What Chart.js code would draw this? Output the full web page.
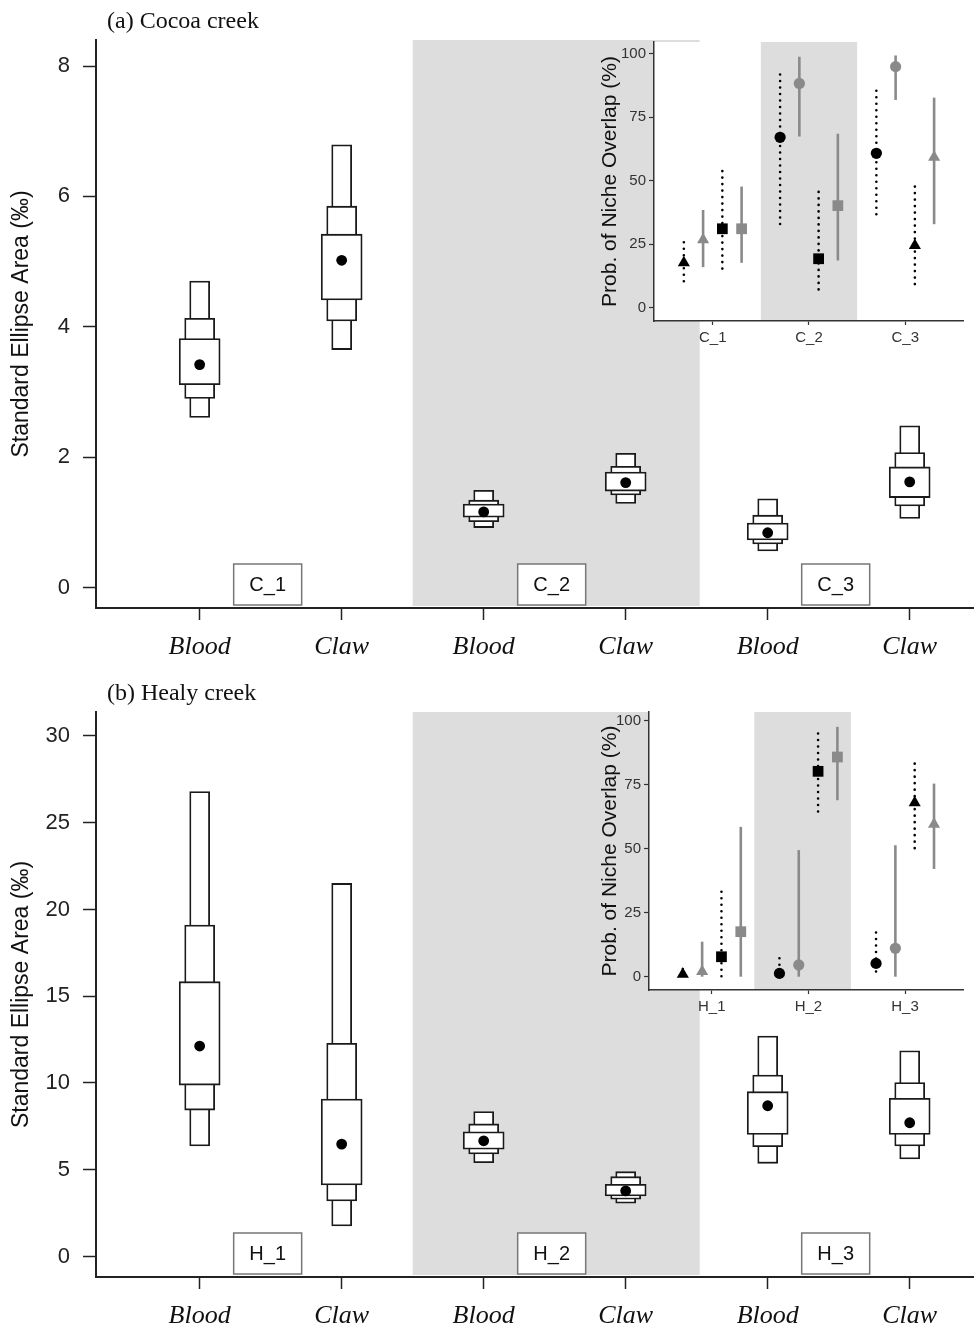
<!DOCTYPE html>
<html lang="en">
<head>
<meta charset="UTF-8">
<title>Standard ellipse areas - Cocoa and Healy creek</title>
<script src="https://cdn.jsdelivr.net/npm/chart.js"></script>
<style>
    * { margin: 0; padding: 0; box-sizing: border-box; }
    body { background: #fff; width: 979px; height: 1332px; position: relative; overflow: hidden; }
    .panel { position: absolute; left: 0; width: 979px; height: 666px; }
    .panel canvas { position: absolute; }
    .panel-title {
        position: absolute; left: 107px;
        font-family: 'Liberation Serif', serif; font-size: 24px; line-height: 24px; color: #111;
    }
</style>
</head>
<body>
<div class="panel" style="top:0">
    <canvas id="mainA" width="979" height="666" style="left:0;top:0"></canvas>
    <canvas id="insetA" width="399" height="330" style="left:580px;top:30px"></canvas>
    <div class="panel-title" style="top:8px">(a) Cocoa creek</div>
</div>
<div class="panel" style="top:666px">
    <canvas id="mainB" width="979" height="666" style="left:0;top:0"></canvas>
    <canvas id="insetB" width="399" height="330" style="left:580px;top:34px"></canvas>
    <div class="panel-title" style="top:14px">(b) Healy creek</div>
</div>

<script>
// categories on the main x axis
const tissues = ['Blood', 'Claw', 'Blood', 'Claw', 'Blood', 'Claw'];
const tissuePos = [1, 2, 3, 4, 5, 6];
const ticksA = [0, 2, 4, 6, 8];
const ticksB = [0, 5, 10, 15, 20, 25, 30];

// (a) Cocoa creek: SEA mode and credible intervals (50, 75, 95 %)
const groupsA = ['C_1', 'C_2', 'C_3'];
const modeA = [3.42, 5.02, 1.16, 1.61, 0.84, 1.62];
const ci50A = [[3.11, 3.82], [4.41, 5.42], [1.08, 1.28], [1.48, 1.77], [0.73, 0.99], [1.38, 1.85]];
const ci75A = [[2.90, 4.13], [4.09, 5.85], [1.01, 1.34], [1.42, 1.86], [0.67, 1.11], [1.25, 2.07]];
const ci95A = [[2.61, 4.70], [3.65, 6.79], [0.92, 1.49], [1.29, 2.06], [0.56, 1.36], [1.06, 2.48]];

// (b) Healy creek
const groupsB = ['H_1', 'H_2', 'H_3'];
const modeB = [12.13, 6.48, 6.67, 3.78, 8.69, 7.71];
const ci50B = [[9.88, 15.84], [4.12, 9.08], [6.18, 7.19], [3.49, 4.16], [7.04, 9.50], [7.04, 9.12]];
const ci75B = [[8.44, 19.10], [3.20, 12.29], [5.91, 7.64], [3.30, 4.60], [6.33, 10.46], [6.37, 10.02]];
const ci95B = [[6.37, 26.80], [1.76, 21.50], [5.41, 8.35], [3.07, 4.89], [5.37, 12.71], [5.62, 11.86]];

// insets: probability of niche overlap (%), estimate with low/high bounds
const overlapTicks = [0, 25, 50, 75, 100];
const bloodOneA = [17.7, 67.1, 60.8], bloodOneLoA = [9.1, 32.9, 36.1], bloodOneHiA = [25.8, 91.8, 85.4];
const clawOneA  = [26.8, 88.3, 94.9], clawOneLoA  = [16.0, 67.4, 81.8], clawOneHiA  = [38.5, 98.8, 99.3];
const bloodTwoA = [31.1, 19.3, 24.5], bloodTwoLoA = [14.1, 5.9, 7.9],   bloodTwoHiA = [53.8, 45.6, 47.7];
const clawTwoA  = [31.1, 40.2, 59.2], clawTwoLoA  = [17.7, 18.6, 32.9], clawTwoHiA  = [47.7, 68.5, 82.7];

const bloodOneB = [1.0, 1.3, 5.2],    bloodOneLoB = [0, 0, 0],          bloodOneHiB = [3.0, 7.2, 17.3];
const clawOneB  = [2.0, 4.6, 11.1],   clawOneLoB  = [0, 0, 0],          clawOneHiB  = [13.7, 49.5, 51.4];
const bloodTwoB = [7.8, 80.3, 68.0],  bloodTwoLoB = [0, 62.5, 50.1],    bloodTwoHiB = [33.2, 95.1, 83.3];
const clawTwoB  = [17.6, 85.9, 59.6], clawTwoLoB  = [0, 69.0, 42.1],    clawTwoHiB  = [58.6, 97.7, 75.5];

const overlapBandA = [1.5, 2.5];
const overlapBandB = [1.44, 2.44];

const SANS = "'Liberation Sans', Arial, sans-serif";
const BAND = '#dddddd';

function boxChart(id, o) {
    const boxSet = (ci, w) => ({
        data: tissuePos.map((x, i) => ({ x: x, y: ci[i] })),
        backgroundColor: '#fff',
        borderColor: '#1a1a1a',
        borderWidth: 1.8,
        borderSkipped: false,
        barThickness: w,
        grouped: false
    });

    // shaded middle group + labelled boxes for each group
    const decor = {
        id: 'decor',
        beforeDraw(chart) {
            const { ctx, chartArea, scales: { x } } = chart;
            const x1 = x.getPixelForValue((tissuePos[1] + tissuePos[2]) / 2);
            const x2 = x.getPixelForValue((tissuePos[3] + tissuePos[4]) / 2) + 3;
            ctx.save();
            ctx.fillStyle = BAND;
            ctx.fillRect(x1, chartArea.top, x2 - x1, chartArea.bottom - chartArea.top - 2);
            ctx.restore();
        },
        afterDatasetsDraw(chart) {
            const { ctx, chartArea, scales: { x } } = chart;
            ctx.save();
            o.groups.forEach((g, k) => {
                const cx = x.getPixelForValue((tissuePos[2 * k] + tissuePos[2 * k + 1]) / 2) - 3;
                const w = 68, h = 41, bottom = chartArea.bottom - 3;
                ctx.fillStyle = '#fff';
                ctx.fillRect(cx - w / 2, bottom - h, w, h);
                ctx.strokeStyle = '#777';
                ctx.lineWidth = 1.5;
                ctx.strokeRect(cx - w / 2, bottom - h, w, h);
                ctx.fillStyle = '#111';
                ctx.font = '20px ' + SANS;
                ctx.textAlign = 'center';
                ctx.textBaseline = 'middle';
                ctx.fillText(g, cx, bottom - h / 2 + 1);
            });
            ctx.restore();
        }
    };

    return new Chart(document.getElementById(id), {
        type: 'bar',
        data: {
            datasets: [
                {
                    type: 'scatter',
                    data: tissuePos.map((x, i) => ({ x: x, y: o.mode[i] })),
                    pointRadius: 5.4,
                    pointBackgroundColor: '#000',
                    pointBorderWidth: 0
                },
                boxSet(o.ci50, 41),
                boxSet(o.ci75, 30),
                boxSet(o.ci95, 20)
            ]
        },
        options: {
            responsive: false,
            animation: false,
            events: [],
            layout: { padding: { top: o.top, left: 0, right: 0, bottom: 0 } },
            plugins: { legend: { display: false }, tooltip: { enabled: false } },
            scales: {
                x: {
                    type: 'linear', min: 0.27, max: 6.45, offset: false,
                    afterBuildTicks: s => { s.ticks = tissuePos.map(v => ({ value: v })); },
                    afterFit: s => { s.height = o.xHeight; },
                    ticks: {
                        autoSkip: false, maxRotation: 0, padding: 12, color: '#111',
                        font: { family: "'Liberation Serif', serif", style: 'italic', size: 26 },
                        callback: (v, i) => tissues[i]
                    },
                    grid: { offset: false, drawOnChartArea: false, tickLength: 12, tickColor: '#222', tickWidth: 1.5 },
                    border: { color: '#222', width: 2 }
                },
                y: {
                    min: o.yMin, max: o.yMax, stacked: false,
                    afterBuildTicks: s => { s.ticks = o.ticks.map(v => ({ value: v })); },
                    afterFit: s => { s.width = 96; },
                    ticks: { padding: 13, color: '#222', font: { family: SANS, size: 22 } },
                    grid: { drawOnChartArea: false, tickLength: 13, tickColor: '#222', tickWidth: 1.5 },
                    border: { color: '#222', width: 2 },
                    title: {
                        display: true, text: 'Standard Ellipse Area (‰)', color: '#111',
                        font: { family: SANS, size: 23 }, padding: { top: 8, bottom: 0 }
                    }
                }
            }
        },
        plugins: [decor]
    });
}

function overlapChart(id, o) {
    const radius = { circle: 5.6, triangle: 7, rect: 7.6 };
    const shapesOne = ['triangle', 'circle', 'circle'];
    const shapesTwo = ['rect', 'rect', 'triangle'];
    const series = [
        { v: o.s[0], lo: o.s[1], hi: o.s[2], color: '#000', dotted: true, shapes: shapesOne, dx: -0.3 },
        { v: o.s[3], lo: o.s[4], hi: o.s[5], color: '#8a8a8a', dotted: false, shapes: shapesOne, dx: -0.1 },
        { v: o.s[6], lo: o.s[7], hi: o.s[8], color: '#000', dotted: true, shapes: shapesTwo, dx: 0.1 },
        { v: o.s[9], lo: o.s[10], hi: o.s[11], color: '#8a8a8a', dotted: false, shapes: shapesTwo, dx: 0.3 }
    ];

    const panel = {
        id: 'panel',
        beforeDraw(chart) {
            const { ctx, chartArea, scales: { x } } = chart;
            ctx.save();
            ctx.fillStyle = '#fff';
            ctx.fillRect(chartArea.left, chartArea.top, chartArea.right - chartArea.left, chartArea.bottom - chartArea.top);
            const b1 = x.getPixelForValue(o.band[0]), b2 = x.getPixelForValue(o.band[1]);
            ctx.fillStyle = BAND;
            ctx.fillRect(b1, chartArea.top, b2 - b1, chartArea.bottom - chartArea.top);
            ctx.restore();
        },
        beforeDatasetsDraw(chart) {
            const { ctx, scales: { y } } = chart;
            chart.data.datasets.forEach((ds, i) => {
                chart.getDatasetMeta(i).data.forEach((pt, j) => {
                    ctx.save();
                    ctx.beginPath();
                    ctx.strokeStyle = ds.backgroundColor;
                    if (ds.dotted) {
                        ctx.setLineDash([0, 6.5]);
                        ctx.lineCap = 'round';
                        ctx.lineWidth = 2.6;
                    } else {
                        ctx.lineWidth = 2.6;
                    }
                    ctx.moveTo(pt.x, y.getPixelForValue(ds.hi[j]));
                    ctx.lineTo(pt.x, y.getPixelForValue(ds.lo[j]));
                    ctx.stroke();
                    ctx.restore();
                });
            });
        }
    };

    return new Chart(document.getElementById(id), {
        type: 'scatter',
        data: {
            datasets: series.map(s => ({
                data: o.cats.map((c, i) => ({ x: i + 1 + s.dx, y: s.v[i] })),
                lo: s.lo, hi: s.hi, dotted: s.dotted,
                pointStyle: s.shapes,
                pointRadius: s.shapes.map(p => radius[p]),
                backgroundColor: s.color,
                borderColor: s.color,
                pointBorderWidth: 0
            }))
        },
        options: {
            responsive: false,
            animation: false,
            events: [],
            layout: { padding: { top: o.top, left: 0, right: 16, bottom: 0 } },
            plugins: { legend: { display: false }, tooltip: { enabled: false } },
            scales: {
                x: {
                    type: 'linear', min: o.xMin, max: 3.6,
                    afterBuildTicks: s => { s.ticks = o.cats.map((c, i) => ({ value: i + 1 })); },
                    afterFit: s => { s.height = o.xHeight; },
                    ticks: {
                        autoSkip: false, maxRotation: 0, padding: 4, color: '#333',
                        font: { family: SANS, size: 15 },
                        callback: (v, i) => o.cats[i]
                    },
                    grid: { drawOnChartArea: false, tickLength: 4, tickColor: '#333', tickWidth: 1.2 },
                    border: { color: '#333', width: 1.5 }
                },
                y: {
                    min: -5.2, max: o.yMax,
                    afterBuildTicks: s => { s.ticks = overlapTicks.map(v => ({ value: v })); },
                    afterFit: s => { s.width = o.yWidth; },
                    ticks: { padding: 3, color: '#333', font: { family: SANS, size: 15 } },
                    grid: { drawOnChartArea: false, tickLength: 5, tickColor: '#333', tickWidth: 1.2 },
                    border: { color: '#333', width: 1.5 },
                    title: {
                        display: true, text: 'Prob. of Niche Overlap (%)', color: '#111',
                        font: { family: SANS, size: 21 }, padding: { top: 18, bottom: 0 }
                    }
                }
            }
        },
        plugins: [panel]
    });
}

boxChart('mainA', {
    groups: groupsA, mode: modeA, ci50: ci50A, ci75: ci75A, ci95: ci95A,
    ticks: ticksA, yMin: -0.314, yMax: 8.399, top: 40, xHeight: 58
});
boxChart('mainB', {
    groups: groupsB, mode: modeB, ci50: ci50B, ci75: ci75B, ci95: ci95B,
    ticks: ticksB, yMin: -1.18, yMax: 31.38, top: 46, xHeight: 55
});

overlapChart('insetA', {
    cats: groupsA, band: overlapBandA, top: 10, xHeight: 39, yWidth: 74, xMin: 0.39, yMax: 104.6,
    s: [bloodOneA, bloodOneLoA, bloodOneHiA, clawOneA, clawOneLoA, clawOneHiA,
        bloodTwoA, bloodTwoLoA, bloodTwoHiA, clawTwoA, clawTwoLoA, clawTwoHiA]
});
overlapChart('insetB', {
    cats: groupsB, band: overlapBandB, top: 12, xHeight: 40, yWidth: 69, xMin: 0.35, yMax: 103.5,
    s: [bloodOneB, bloodOneLoB, bloodOneHiB, clawOneB, clawOneLoB, clawOneHiB,
        bloodTwoB, bloodTwoLoB, bloodTwoHiB, clawTwoB, clawTwoLoB, clawTwoHiB]
});
</script>
</body>
</html>
